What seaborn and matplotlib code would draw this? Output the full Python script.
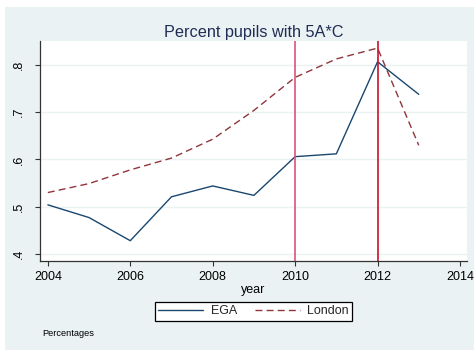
import matplotlib
matplotlib.use("Agg")
import matplotlib.pyplot as plt
from matplotlib.patches import Rectangle
import seaborn as sns
import pandas as pd

# Share of pupils achieving 5 A*-C grades
years = [2004, 2005, 2006, 2007, 2008, 2009, 2010, 2011, 2012, 2013]
ega = [0.504, 0.477, 0.428, 0.521, 0.544, 0.524, 0.606, 0.612, 0.807, 0.738]
london = [0.530, 0.549, 0.578, 0.603, 0.643, 0.704, 0.774, 0.813, 0.836, 0.630]
series_names = ["EGA", "London"]
event_years = [2010, 2012]
event_colors = ["#d9547a", "#c8102e"]
y_ticks = [0.4, 0.5, 0.6, 0.7, 0.8]
y_ticklabels = [".4", ".5", ".6", ".7", ".8"]
x_ticks = [2004, 2006, 2008, 2010, 2012, 2014]

df = pd.DataFrame({
    "year": years * 2,
    "value": ega + london,
    "series": [series_names[0]] * len(years) + [series_names[1]] * len(years),
})

sns.set_theme(style="white")
plt.rcParams["font.family"] = ["Liberation Sans", "DejaVu Sans"]

W, H = 475, 352
fig = plt.figure(figsize=(W / 100, H / 100), dpi=100, facecolor="white")
bg = "#eaf2f3"
fig.patches.append(Rectangle((5 / W, 2 / H), 469 / W, 343 / H,
                             transform=fig.transFigure, facecolor=bg,
                             edgecolor="none", zorder=-10))

ax = fig.add_axes([40 / W, 91 / H, 427 / W, 220 / H])
ax.set_facecolor("white")

palette = {"EGA": "#1a476f", "London": "#90353b"}
sns.lineplot(data=df, x="year", y="value", hue="series", style="series",
             palette=palette, dashes={"EGA": "", "London": (5, 3)},
             linewidth=1.0, ax=ax, legend=False)

for yr, col in zip(event_years, event_colors):
    ax.axvline(yr, color=col, linewidth=1.2, zorder=3)

ax.set_xlim(2003.81, 2014.17)
ax.set_ylim(0.385, 0.851)
ax.set_xticks(x_ticks)
ax.set_yticks(y_ticks)
ax.set_yticklabels(y_ticklabels, rotation=90, va="center")
ax.grid(axis="y", color=bg, linewidth=1.0)
ax.set_axisbelow(True)

for side in ["top", "right"]:
    ax.spines[side].set_visible(False)
for side in ["left", "bottom"]:
    ax.spines[side].set_color("#333333")
    ax.spines[side].set_linewidth(0.9)

ax.tick_params(axis="both", which="both", direction="out", length=3.6,
               width=0.8, color="#333333", labelsize=9, labelcolor="black",
               left=True, bottom=True)
ax.tick_params(axis="y", pad=7)
ax.tick_params(axis="x", pad=3.5)

ax.set_xlabel("year", fontsize=9, color="black", labelpad=0.5)
ax.set_ylabel("")
ax.set_title("Percent pupils with 5A*C", fontsize=11.7, color="#1f2d55", pad=3)

handles = ax.get_lines()[:2]
leg = fig.legend(handles, series_names, loc="center",
                 bbox_to_anchor=(253.5 / W, 1 - 311.5 / H), ncol=2,
                 fontsize=9, frameon=True, fancybox=False,
                 edgecolor="black", facecolor="white", framealpha=1,
                 handlelength=3.6, handletextpad=0.6, columnspacing=1.4,
                 borderpad=0.3, borderaxespad=0)
leg.get_frame().set_linewidth(0.9)

fig.text(42 / W, 1 - 334 / H, "Percentages", fontsize=6.7, color="black",
         va="center", ha="left")

fig.savefig("out.png", dpi=100, facecolor="white")
